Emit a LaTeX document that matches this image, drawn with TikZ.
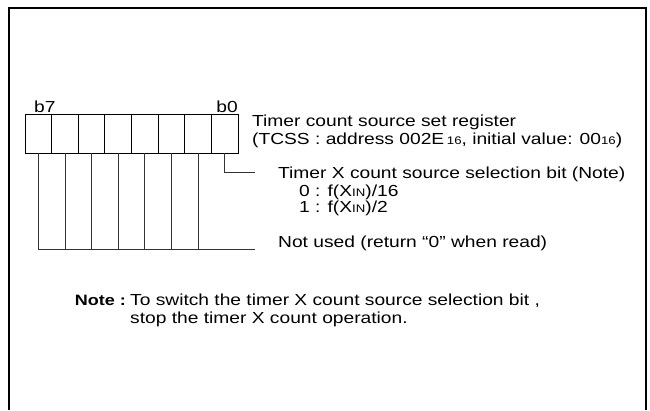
\documentclass[tikz,border=0pt]{standalone}
\usepackage{fontspec}
\setmainfont{Liberation Sans}[FakeStretch=1.2]

\newcommand{\sm}[1]{{\fontsize{11}{13}\selectfont #1}}

\begin{document}
\begin{tikzpicture}[x=1pt,y=-1pt,
  cell/.style={draw,line width=0.8pt,minimum width=26.625pt,minimum height=39pt,inner sep=0pt,outer sep=0pt},
  lbl/.style={anchor=base west,inner sep=0pt,font=\fontsize{16}{19}\selectfont},
  wire/.style={line width=0.8pt,draw=black!80}]

  \useasboundingbox (0,0) rectangle (650,410);
  \draw[line width=1.6pt] (9,410) -- (9,8) -- (646,8) -- (646,410);

  % register cells, b7 on the left
  \foreach \k in {0,...,7} {
    \pgfmathtruncatemacro{\b}{7-\k}
    \node[cell] (r\b) at ({25+26.625*(\k+0.5)},133.5) {};
  }
  \node[lbl] (t7) at (34,112.5) {b7};
  \node[lbl,anchor=base east] (t0) at (238,112.5) {b0};

  \node[lbl] (reg) at (252,126.5) {Timer count source set register};
  \node[lbl] (adr) at (252,144.5) {(TCSS : address 002E\,\sm{16}, initial value: 00\sm{16})};
  \node[lbl] (sel) at (278,178) {Timer X count source selection bit (Note)};
  \node[lbl] (s0) at (299,196) {0 : f(X\sm{IN})/16};
  \node[lbl] (s1) at (299,212.5) {1 : f(X\sm{IN})/2};
  \node[lbl] (nu) at (278,247.5) {Not used (return “0” when read)};

  \coordinate (e0) at (255,172);
  \coordinate (e1) at (255,249);
  \draw[wire] (r0.south) |- (e0);
  \foreach \b in {7,...,1}
    \draw[wire] (r\b.south) -- (r\b.south |- e1);
  \draw[wire] (r7.south |- e1) -- (e1);

  % note
  \node[lbl,anchor=base east,font=\fontsize{15}{19}\selectfont\bfseries] (nt) at (126,305) {Note :};
  \node[lbl] (n1) at (130,305) {To switch the timer X count source selection bit ,};
  \node[lbl] (n2) at (130,323.5) {stop the timer X count operation.};

\end{tikzpicture}
\end{document}
